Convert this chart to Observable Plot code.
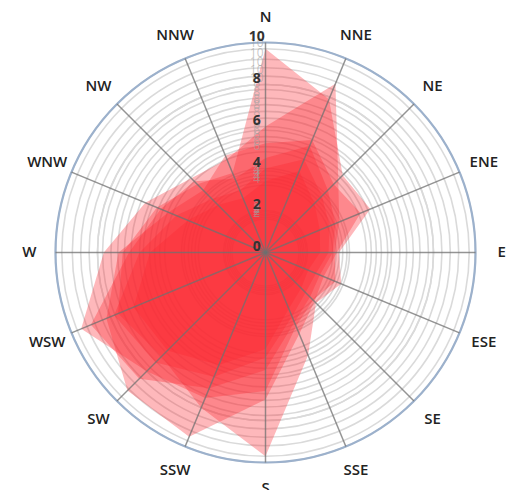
<!DOCTYPE html>
<html><head><meta charset="utf-8">
<script src="https://cdn.jsdelivr.net/npm/d3@7"></script>
<script src="https://cdn.jsdelivr.net/npm/@observablehq/plot@0.6"></script>
<style>body{margin:0;background:#fff;} #chart svg{display:block}</style>
</head><body><div id="chart"></div>
<script>
const directions = ["N","NNE","NE","ENE","E","ESE","SE","SSE","S","SSW","SW","WSW","W","WNW","NW","NNW"];
// six overlaid radar charts (values on the main 0–10 scale)
const series1 = [9.7, 7.9, 5.2, 5.4, 3.5, 3.9, 3.4, 5.3, 9.7, 8.0, 7.0, 7.6, 6.8, 5.6, 4.6, 4.1];
const series2 = [6.0, 8.7, 4.9, 3.8, 3.3, 3.6, 3.2, 3.8, 6.6, 7.5, 8.0, 9.5, 7.7, 6.2, 5.0, 4.8];
const series3 = [5.2, 5.8, 4.6, 4.9, 3.4, 3.0, 3.3, 4.2, 7.0, 9.5, 9.3, 8.2, 7.0, 5.0, 4.2, 5.0];
const series4 = [4.5, 5.5, 4.2, 3.6, 3.2, 2.8, 3.0, 3.6, 5.6, 7.0, 8.5, 9.0, 6.5, 5.4, 4.8, 3.8];
const series5 = [4.0, 4.8, 3.8, 3.3, 3.0, 2.6, 2.7, 3.3, 5.0, 6.4, 7.4, 7.8, 6.0, 4.6, 3.6, 3.2];
const series6 = [3.4, 4.2, 3.3, 2.8, 2.6, 2.2, 2.4, 2.9, 4.6, 5.8, 6.6, 6.8, 5.5, 4.0, 3.2, 2.8];
// each overlaid chart's radial axis, relative to the main one
const chartScales = [1, 0.97, 0.92, 0.88, 0.84, 0.8];
const radialTicks = [0, 2, 4, 6, 8, 10];

const seriesList = [series1, series2, series3, series4, series5, series6];
const ang = i => i * 2 * Math.PI / directions.length;
const poly = seriesList.flatMap((vals, k) => vals.map((v, i) => ({k, dir: directions[i], v, i})));
const rings = chartScales.flatMap(f => radialTicks.filter(t => t > 0).map(t => t * f));
const mainLabels = radialTicks;
const otherLabels = chartScales.slice(1).flatMap(f => radialTicks.filter(t => t > 0).map(t => ({t, f})));

const PX = 21; // pixels per unit
const chart = Plot.plot({
  width: 510, height: 490,
  marginTop: 0, marginRight: 0, marginBottom: 0, marginLeft: 0,
  x: {domain: [-265 / PX, 245 / PX], axis: null},
  y: {domain: [-238 / PX, 252 / PX], axis: null},
  r: {type: "linear", domain: [0, 10], range: [0, 210]},
  style: {background: "#fff"},
  marks: [
    Plot.dot(rings, {x: 0, y: 0, r: d => d, stroke: "#dadada", strokeWidth: 1.6, fill: "none"}),
    Plot.dot([10], {x: 0, y: 0, r: d => d, stroke: "#9cb1cc", strokeWidth: 2.2, fill: "none"}),
    Plot.line(poly, {
      x: d => d.v * Math.sin(ang(d.i)), y: d => d.v * Math.cos(ang(d.i)),
      z: "k", curve: "linear-closed", fill: "rgb(252,38,48)", fillOpacity: 0.33, stroke: "none"
    }),
    Plot.link(directions, {
      x1: 0, y1: 0,
      x2: (d, i) => 10 * Math.sin(ang(i)), y2: (d, i) => 10 * Math.cos(ang(i)),
      stroke: "#707070", strokeWidth: 1.5, strokeOpacity: 0.75
    }),
    Plot.text(otherLabels, {
      x: -0.42, y: d => d.t * d.f, dy: -6, text: d => String(d.t),
      fontSize: 12, fill: "#a0a0a0", fillOpacity: 0.6, fontFamily: "Open Sans"
    }),
    Plot.text(mainLabels, {
      x: -0.42, y: d => d, dy: -6, text: d => String(d),
      fontSize: 14, fontWeight: 700, fill: "#333", fontFamily: "Open Sans"
    }),
    Plot.text(directions, {
      x: (d, i) => 11.25 * Math.sin(ang(i)), y: (d, i) => 11.2 * Math.cos(ang(i)),
      text: d => d, fontSize: 15, fontWeight: 600, fill: "#222", fontFamily: "Open Sans"
    })
  ]
});
document.getElementById("chart").appendChild(chart);
</script>
</body></html>
